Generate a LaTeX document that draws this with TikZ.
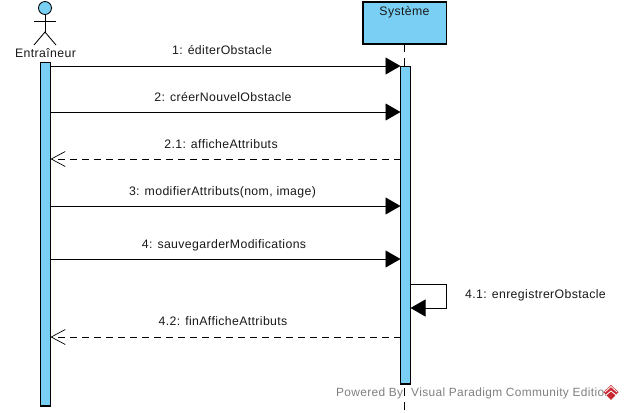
\documentclass[tikz,border=0pt]{standalone}
\usepackage{fontspec}
\setmainfont[LetterSpace=3]{Liberation Sans}
\usetikzlibrary{arrows.meta}
\definecolor{vpblue}{RGB}{122,207,245}
\definecolor{vpgrey}{RGB}{128,128,128}
\definecolor{vpred}{RGB}{200,40,50}
\tikzset{
  x=1pt,y=-1pt,
  every node/.style={font=\fontsize{12.3}{14}\selectfont,text=black!90,inner sep=0pt},
  lineobj/.style={draw=black,fill=vpblue,line width=1.05pt},
  actorline/.style={draw=black,line width=0.85pt},
  lifeline/.style={draw=black,line width=1pt,dash pattern=on 8pt off 6pt},
  callmsg/.style={draw=black,line width=0.95pt,-{Triangle[length=15pt,width=17pt]}},
  retmsg/.style={draw=black,line width=0.9pt,dash pattern=on 7pt off 5pt,-{Straight Barb[length=14pt,width=15pt,line width=0.7pt]}},
  msglabel/.style={anchor=base},
}
\begin{document}
\begin{tikzpicture}
\useasboundingbox (0,0) rectangle (625,413);
\fill[white] (0,0) rectangle (625,413);
% lifeline of the system
\coordinate (llA) at (404.5,44);
\coordinate (llB) at (404.5,66);
\coordinate (llC) at (404.5,388);
\coordinate (llD) at (404.5,413);
\draw[lifeline] (llA) -- (llB);
\draw[lifeline] (llC) -- (llD);
% actor
\draw[actorline,fill=vpblue] (45,8) circle (6.5);
\coordinate (neck) at (45,14.5);
\coordinate (hip) at (45,32);
\draw[actorline] (neck) -- (hip);
\draw[actorline] (34,21) -- (56,21);
\draw[actorline] (34,45) -- (hip) -- (56,45);
\node[msglabel] (actor) at (45.5,57) {Entraîneur};
% system head
\path[lineobj] (363,2) rectangle (446.5,44);
\node[msglabel] (sys) at (404.5,15) {Système};
% activations
\path[lineobj] (40.5,62.5) rectangle (50.5,406);
\path[lineobj] (400.5,66.5) rectangle (410.5,384);
% message ends
\coordinate (a1) at (50.5,66);   \coordinate (b1) at (400.5,66);
\coordinate (a2) at (50.5,112);  \coordinate (b2) at (400.5,112);
\coordinate (a3) at (50.5,159);  \coordinate (b3) at (400.5,159);
\coordinate (a4) at (50.5,206);  \coordinate (b4) at (400.5,206);
\coordinate (a5) at (50.5,259);  \coordinate (b5) at (400.5,259);
\coordinate (a6) at (50.5,337);  \coordinate (b6) at (400.5,337);
\coordinate (s1) at (410.5,284); \coordinate (s2) at (446.5,284);
\coordinate (s3) at (446.5,308); \coordinate (s4) at (410.5,308);
\draw[callmsg] (a1) -- (b1);
\draw[callmsg] (a2) -- (b2);
\draw[retmsg] (b3) -- (a3);
\draw[callmsg] (a4) -- (b4);
\draw[callmsg] (a5) -- (b5);
\draw[callmsg] (s1) -- (s2) -- (s3) -- (s4);
\draw[retmsg] (b6) -- (a6);
% labels
\node[msglabel] (m1) at (222,54) {1: éditerObstacle};
\node[msglabel] (m2) at (223,101) {2: créerNouvelObstacle};
\node[msglabel] (m3) at (221,148) {2.1: afficheAttributs};
\node[msglabel] (m4) at (222.5,195) {3: modifierAttributs(nom, image)};
\node[msglabel] (m5) at (224,248) {4: sauvegarderModifications};
\node[anchor=base west] (m6) at (465,298) {4.1: enregistrerObstacle};
\node[msglabel] (m7) at (223,325) {4.2: finAfficheAttributs};
% watermark
\node[anchor=base west,text=vpgrey,font=\fontsize{11.9}{14}\selectfont] (wm) at (336,396) {Powered By\hspace{8pt}Visual Paradigm Community Edition};
\fill[vpred] (611,385) -- (618.5,392) -- (611,400) -- (603.5,392) -- cycle;
\draw[white,line width=0.8pt] (605,392) -- (611,386.5) -- (617,392);
\draw[white,line width=0.8pt] (606,395) -- (611,391) -- (616,395);
\end{tikzpicture}
\end{document}
